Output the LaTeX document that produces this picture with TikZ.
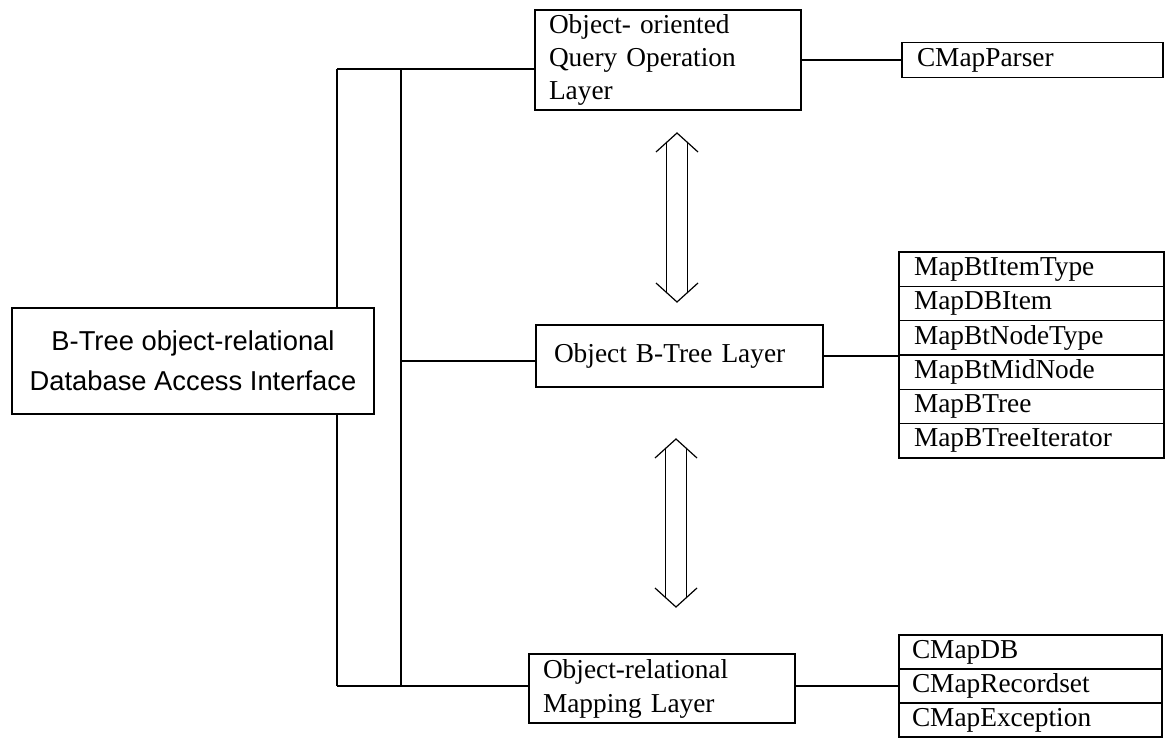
\documentclass[tikz,border=0pt]{standalone}
\usepackage{fontspec}
\setmainfont{Liberation Serif}
\newfontfamily\ifacefont{Liberation Sans}
\usetikzlibrary{calc}

% hollow double-headed arrow between two tip coordinates (#1 upper, #2 lower)
\newcommand{\hollowarrow}[2]{%
  \draw[conn] ($(#1)+(-21,19)$) -- (#1) -- ($(#1)+(21,19)$);
  \draw[conn] ($(#2)+(-21,-19)$) -- (#2) -- ($(#2)+(21,-19)$);
  \draw[conn] ($(#1)+(-10.5,9.5)$) -- ($(#2)+(-10.5,-9.5)$);
  \draw[conn] ($(#1)+(10.5,9.5)$) -- ($(#2)+(10.5,-9.5)$);
}

\begin{document}
\begin{tikzpicture}[x=0.75pt, y=-0.75pt,
  conn/.style={draw=black, line width=0.9pt},
  box/.style={draw=black, fill=white, line width=0.9pt, rectangle,
    font=\fontsize{20.5}{24.75}\selectfont, inner ysep=0pt},
  leftbox/.style={box, align=left},
  rowbox/.style={box, align=left, minimum height=25.75pt,
    inner xsep=11.25pt, text width=176.25pt},
  rowboxb/.style={box, align=left, minimum height=25.5pt,
    inner xsep=9.75pt, text width=177.75pt}]

\useasboundingbox (0,0) rectangle (1165,739);

% main interface
\node[box, font=\ifacefont\fontsize{20.5}{30}\selectfont, align=center,
      minimum width=271.5pt, minimum height=79.5pt, inner xsep=0pt]
  (iface) at (193,361) {B-Tree object-relational\\Database Access Interface};

% layers
\node[leftbox, minimum height=75pt, inner xsep=10.5pt, text width=178.5pt]
  (qry) at (668,60) {Object- oriented\\Query Operation\\Layer};
\node[leftbox, minimum height=46.5pt, inner xsep=13.5pt, text width=188.25pt]
  (btree) at (679.5,356) {Object B-Tree Layer};
\node[leftbox, font=\fontsize{20.5}{25.5}\selectfont, minimum height=51.75pt,
      inner xsep=10.5pt, text width=178.5pt]
  (orm) at (662,688.5) {Object-relational\\Mapping Layer};

% classes
\node[box, align=left, minimum height=26.25pt, inner xsep=11.25pt, text width=173.25pt]
  (parser) at (1032.5,60) {CMapParser};

\node[rowbox] (r1) at (1031.5,269.2) {MapBtItemType};
\node[rowbox] (r2) at (1031.5,303.5) {MapDBItem};
\node[rowbox] (r3) at (1031.5,337.8) {MapBtNodeType};
\node[rowbox] (r4) at (1031.5,372.2) {MapBtMidNode};
\node[rowbox] (r5) at (1031.5,406.5) {MapBTree};
\node[rowbox] (r6) at (1031.5,440.8) {MapBTreeIterator};

\node[rowboxb] (s1) at (1030.5,652) {CMapDB};
\node[rowboxb] (s2) at (1030.5,686) {CMapRecordset};
\node[rowboxb] (s3) at (1030.5,720) {CMapException};

% trunk lines on the left
\coordinate (ta) at (337,69);
\coordinate (tb) at (337,686);
\coordinate (ua) at (401,69);
\coordinate (ub) at (401,686);
\coordinate (um) at (401,361);

\draw[conn] (ta) -- (ta -| qry.west);
\draw[conn] (ta) -- (ta |- iface.north);
\draw[conn] (ta |- iface.south) -- (tb);
\draw[conn] (tb) -- (tb -| orm.west);
\draw[conn] (ua) -- (ub);
\draw[conn] (um) -- (um -| btree.west);

% links to classes
\draw[conn] (qry.east) -- (parser.west);
\draw[conn] (btree.east) -- (btree.east -| r4.west);
\draw[conn] (orm.east |- s2.west) -- (s2.west);

% interaction arrows between layers
\coordinate (a1t) at (677,133);
\coordinate (a1b) at (677,302);
\coordinate (a2t) at (676,439);
\coordinate (a2b) at (676,607);
\hollowarrow{a1t}{a1b}
\hollowarrow{a2t}{a2b}

\end{tikzpicture}
\end{document}
